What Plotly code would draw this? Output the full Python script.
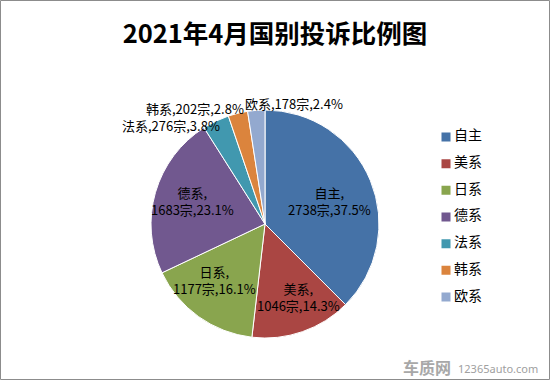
import plotly.graph_objects as go

labels = ["自主", "美系", "日系", "德系", "法系", "韩系", "欧系"]
counts = [2738, 1046, 1177, 1683, 276, 202, 178]
percents = ["37.5%", "14.3%", "16.1%", "23.1%", "3.8%", "2.8%", "2.4%"]
colors = ["#4572A7", "#AA4643", "#89A54E", "#71588F", "#4198AF", "#DB843D", "#93A9CF"]
inside = [True, True, True, True, False, False, False]

W, H = 550, 380
cx, cy, r = 265, 224, 114
FONT = "Noto Sans CJK SC"

fig = go.Figure()
fig.add_trace(go.Pie(
    labels=labels, values=counts, textinfo="none",
    sort=False, direction="clockwise", rotation=0,
    marker=dict(colors=colors, line=dict(color="white", width=1)),
    domain=dict(x=[(cx - r) / W, (cx + r) / W], y=[1 - (cy + r) / H, 1 - (cy - r) / H]),
    hoverinfo="label+value+percent",
    showlegend=False,
))

# legend drawn on a hidden axis: one row per category
rows = list(range(len(labels)))
fig.add_trace(go.Scatter(
    x=[0] * len(labels), y=rows, mode="markers",
    marker=dict(symbol="square", size=9, color=colors, line=dict(width=0)),
    hoverinfo="skip", showlegend=False, xaxis="x", yaxis="y",
))
fig.add_trace(go.Scatter(
    x=[8] * len(labels), y=rows, mode="text", text=labels, textposition="middle right",
    textfont=dict(family=FONT, size=14, color="#000000"),
    hoverinfo="skip", showlegend=False, xaxis="x", yaxis="y",
))

# data-label placement (pixel centres, as in the reference)
label_pos = {
    "自主": (329, 201), "美系": (299, 297), "日系": (214, 280), "德系": (192, 201),
    "法系": (120, 125), "韩系": (144, 108), "欧系": (243, 103),
}
annotations = []
for lab, c, p, ins in zip(labels, counts, percents, inside):
    x, y = label_pos[lab]
    if ins:
        annotations.append(dict(text=f"{lab},<br>{c}宗,{p}", x=x / W, y=1 - y / H, xref="paper", yref="paper",
                                showarrow=False, xanchor="center", yanchor="middle", align="center",
                                font=dict(family=FONT, size=13, color="#000000")))
    else:
        annotations.append(dict(text=f"{lab},{c}宗,{p}", x=x / W, y=1 - y / H, xref="paper", yref="paper",
                                showarrow=False, xanchor="left", yanchor="middle",
                                font=dict(family=FONT, size=13, color="#000000")))

annotations += [
    dict(text="<b>车质网</b>", x=453 / W, y=1 - 367 / H, xref="paper", yref="paper",
         showarrow=False, xanchor="right", yanchor="middle",
         font=dict(family=FONT, size=16, color="#a8a8a8")),
    dict(text="12365auto.com", x=456 / W, y=1 - 368 / H, xref="paper", yref="paper",
         showarrow=False, xanchor="left", yanchor="middle",
         font=dict(family="Noto Sans", size=11, color="#a0a0a0")),
]

# legend area: 1 x-unit = 1 px, rows 26.7 px apart, first row centre at y=137 px
lx0, lx1 = 446, 546
ly_top, ly_bot = 137 - 13.35, 297 + 13.35
fig.update_layout(
    width=W, height=H,
    margin=dict(l=0, r=0, t=0, b=0),
    paper_bgcolor="white", plot_bgcolor="rgba(0,0,0,0)",
    xaxis=dict(visible=False, domain=[(lx0 - 5) / W, (lx1 - 5) / W], range=[-5, 95], fixedrange=True),
    yaxis=dict(visible=False, domain=[1 - ly_bot / H, 1 - ly_top / H], range=[6.5, -0.5], fixedrange=True),
    title=dict(text="<b>2021年4月国别投诉比例图</b>", x=0.5, xanchor="center",
               y=1 - 34 / H, yanchor="middle",
               font=dict(family=FONT, size=25.5, color="#000000")),
    showlegend=False,
    shapes=[dict(type="rect", xref="paper", yref="paper", x0=0.5 / W, y0=0.5 / H, x1=1 - 0.5 / W, y1=1 - 0.5 / H,
                 line=dict(color="#8c8c8c", width=1))],
    annotations=annotations,
)

fig.write_html("out.html", config={"displayModeBar": False},
               post_script="document.body.style.margin='0';document.body.style.padding='0';")
